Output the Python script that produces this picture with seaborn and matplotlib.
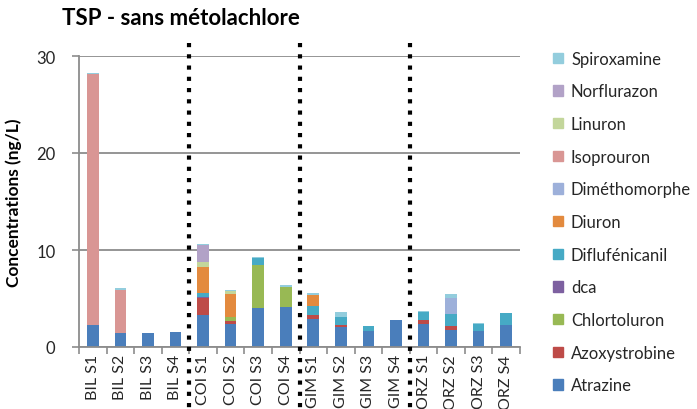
import numpy as np
import pandas as pd
import matplotlib
matplotlib.use("Agg")
import matplotlib.pyplot as plt
import matplotlib.patches as mpatches
import seaborn as sns

samples = ["BIL S1", "BIL S2", "BIL S3", "BIL S4",
           "COI S1", "COI S2", "COI S3", "COI S4",
           "GIM S1", "GIM S2", "GIM S3", "GIM S4",
           "ORZ S1", "ORZ S2", "ORZ S3", "ORZ S4"]

# bottom to top stacking order
compounds = ["Atrazine", "Azoxystrobine", "Chlortoluron", "dca", "Diflufénicanil",
             "Diuron", "Diméthomorphe", "Isoprouron", "Linuron", "Norflurazon", "Spiroxamine"]

atrazine       = [2.23, 1.41, 1.41, 1.58, 3.33, 2.32, 4.06, 4.16, 2.92, 2.03, 1.68, 2.75, 2.34, 1.72, 1.68, 2.30]
azoxystrobine  = [0.00, 0.00, 0.00, 0.00, 1.69, 0.36, 0.00, 0.00, 0.34, 0.27, 0.00, 0.00, 0.41, 0.48, 0.00, 0.00]
chlortoluron   = [0.00, 0.00, 0.00, 0.00, 0.00, 0.40, 4.44, 2.03, 0.00, 0.00, 0.00, 0.00, 0.00, 0.00, 0.00, 0.00]
dca            = [0.00, 0.00, 0.00, 0.00, 0.10, 0.06, 0.00, 0.00, 0.00, 0.00, 0.00, 0.00, 0.00, 0.00, 0.00, 0.00]
diflufenicanil = [0.00, 0.00, 0.00, 0.00, 0.42, 0.00, 0.69, 0.00, 0.97, 0.76, 0.45, 0.00, 0.86, 1.21, 0.66, 1.17]
diuron         = [0.00, 0.00, 0.00, 0.00, 2.75, 2.29, 0.00, 0.00, 1.17, 0.00, 0.00, 0.00, 0.00, 0.00, 0.00, 0.00]
dimethomorphe  = [0.00, 0.00, 0.00, 0.00, 0.00, 0.00, 0.00, 0.00, 0.00, 0.00, 0.00, 0.00, 0.00, 1.68, 0.00, 0.00]
isoproturon    = [25.87, 4.51, 0.00, 0.00, 0.00, 0.00, 0.00, 0.00, 0.00, 0.00, 0.00, 0.00, 0.00, 0.00, 0.00, 0.00]
linuron        = [0.00, 0.00, 0.00, 0.00, 0.45, 0.31, 0.00, 0.00, 0.00, 0.00, 0.00, 0.00, 0.00, 0.00, 0.00, 0.00]
norflurazon    = [0.00, 0.00, 0.00, 0.00, 1.75, 0.00, 0.00, 0.00, 0.00, 0.00, 0.00, 0.00, 0.00, 0.00, 0.00, 0.00]
spiroxamine    = [0.17, 0.17, 0.00, 0.00, 0.17, 0.18, 0.10, 0.17, 0.20, 0.55, 0.06, 0.06, 0.10, 0.41, 0.16, 0.07]

colors = {
    "Atrazine": "#4A7EBB",
    "Azoxystrobine": "#BE4B48",
    "Chlortoluron": "#98B954",
    "dca": "#7D60A0",
    "Diflufénicanil": "#46AAC5",
    "Diuron": "#E38A3E",
    "Diméthomorphe": "#9DB0DA",
    "Isoprouron": "#D99694",
    "Linuron": "#C3D69B",
    "Norflurazon": "#B2A2C7",
    "Spiroxamine": "#93CDDD",
}

series = [atrazine, azoxystrobine, chlortoluron, dca, diflufenicanil, diuron,
          dimethomorphe, isoproturon, linuron, norflurazon, spiroxamine]

rows = []
for s_i, s in enumerate(samples):
    for c, vals in zip(compounds, series):
        rows.append({"sample": s, "compound": c, "value": vals[s_i]})
df = pd.DataFrame(rows)

sns.set_theme(style="white")
plt.rcParams["font.family"] = ["Lato", "DejaVu Sans"]

fig = plt.figure(figsize=(6.97, 4.10), dpi=100)
ax = fig.add_axes([79/697, 1-348/410, (520-79)/697, (348-57)/410])

# first hue level is drawn on top in seaborn's stack => reverse order
hue_order = compounds[::-1]
sns.histplot(data=df, x="sample", hue="compound", weights="value",
             multiple="stack", discrete=True, shrink=0.42,
             hue_order=hue_order, palette=colors, alpha=1,
             linewidth=0, legend=False, ax=ax)

ax.set_xlim(-0.5, len(samples) - 0.5)
ax.set_ylim(0, 30)
ax.set_yticks([0, 10, 20, 30])
ax.yaxis.grid(True, color="#8c8c8c", linewidth=1.3)
ax.set_axisbelow(True)
for sp in ["top", "right"]:
    ax.spines[sp].set_visible(False)
for sp in ["left", "bottom"]:
    ax.spines[sp].set_color("#8c8c8c")
    ax.spines[sp].set_linewidth(1.3)

ax.set_xticks(np.arange(len(samples)))
ax.set_xticklabels(samples, rotation=90, fontsize=11.5, color="#262626")
ax.set_xticks(np.arange(len(samples) + 1) - 0.5, minor=True)
ax.tick_params(axis="x", which="major", length=0, pad=5)
ax.tick_params(axis="x", which="minor", length=5, width=1.2, color="#8c8c8c", direction="out", bottom=True)
ax.tick_params(axis="y", length=5, width=1.2, color="#8c8c8c", direction="out", left=True,
               labelsize=12, labelcolor="#262626", pad=12)
ax.set_xlabel("")
ax.set_ylabel("Concentrations (ng/L)", fontsize=12.5, fontweight="bold", color="black", labelpad=10)

# dotted separators between sites
for xpos in [3.5, 7.5, 11.5]:
    ax.plot([xpos, xpos], [(348-44)/291, (348-412)/291], transform=ax.get_xaxis_transform(),
            color="black", linewidth=3.0, linestyle=(0, (1, 1.7)), clip_on=False, zorder=10)

fig.text(62/697, 1-25/410, "TSP - sans métolachlore", fontsize=16, fontweight="bold",
         color="black", ha="left", va="baseline")

handles = [mpatches.Patch(color=colors[c], label=c) for c in hue_order]
fig.legend(handles=handles, loc="upper left", bbox_to_anchor=(546/697, 1-45/410),
           frameon=False, fontsize=12, handlelength=0.6, handleheight=0.6,
           handletextpad=0.5, labelspacing=1.0, borderaxespad=0)

fig.savefig("out.png", dpi=100)
